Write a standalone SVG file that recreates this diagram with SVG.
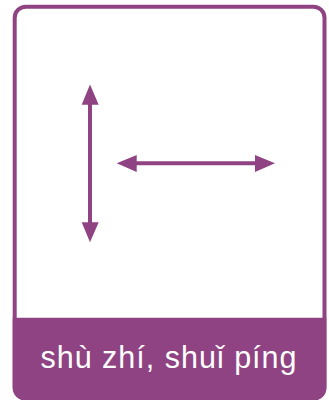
<svg xmlns="http://www.w3.org/2000/svg" width="329" height="400" viewBox="0 0 329 400">
<style>
.c{fill:#8f4383}
.l{stroke:#8f4383;stroke-width:4;fill:none}
.t{font-family:"Liberation Sans",Arial,sans-serif;font-size:30.500px;letter-spacing:1px;fill:#fff}
</style>
<rect width="329" height="400" fill="#fff"/>
<g id="card">
<rect x="14.700" y="6.700" width="309.800" height="392" rx="11" fill="#fff" stroke="#8f4383" stroke-width="4"/>
<path class="c" d="M12.700 317.700H326.300V387.500a12.500 12.500 0 0 1-12.500 12.500H25.200a12.500 12.500 0 0 1-12.500-12.500Z"/>
<text class="t" x="169" y="368" text-anchor="middle">shù zhí, shuǐ píng</text>
</g>
<g id="connectors">
<path class="l" d="M90 100V226"/>
<path class="c" d="M90 84.500L98.700 104.700H81.700ZM90 242.300L81.700 222.300H98.700Z"/>
<path class="l" d="M132 163.300H260"/>
<path class="c" d="M116.700 163.300L136.700 155V172ZM275 163.300L255 155V172Z"/>
</g>
</svg>
